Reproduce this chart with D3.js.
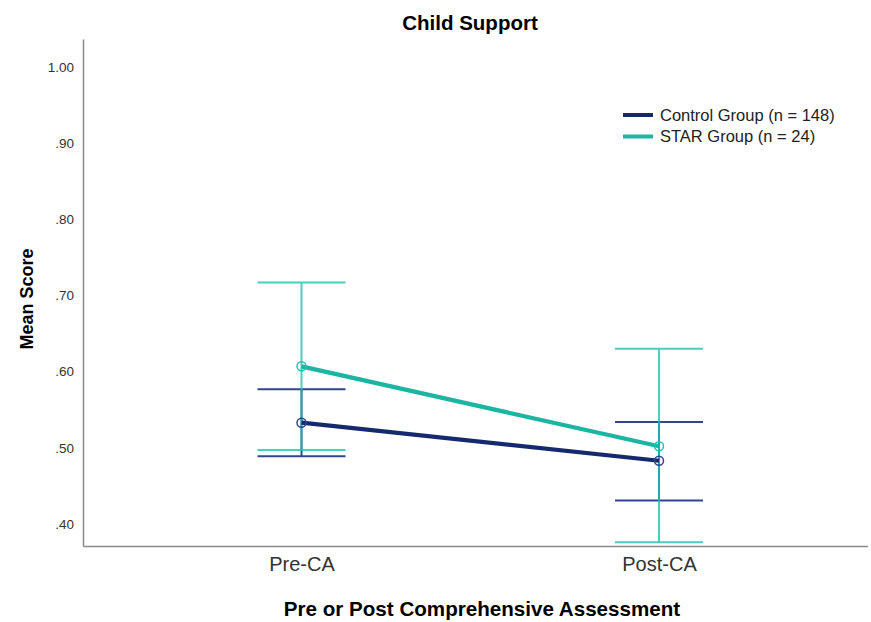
<!DOCTYPE html>
<html>
<head>
<meta charset="utf-8">
<script src="https://cdn.jsdelivr.net/npm/d3@7/dist/d3.min.js"></script>
<style>
  html, body { margin: 0; padding: 0; background: #fff; }
  svg { display: block; font-family: "Liberation Sans", Arial, sans-serif; }
</style>
</head>
<body>
<svg id="chart" width="871" height="622"></svg>
<script>
// Time points on the x axis
const timepoints = ["Pre-CA", "Post-CA"];

// Group names shown in the legend
const groups = ["Control Group (n = 148)", "STAR Group (n = 24)"];

// Mean scores per group at each time point
const controlMean = [0.533, 0.483];
const starMean = [0.607, 0.502];

// 95% CI bounds per group at each time point
const controlLow = [0.489, 0.431];
const controlHigh = [0.577, 0.534];
const starLow = [0.497, 0.376];
const starHigh = [0.717, 0.630];

// y-axis tick values
const yTicks = [0.40, 0.50, 0.60, 0.70, 0.80, 0.90, 1.00];

const series = [
  { name: groups[0], mean: controlMean, low: controlLow, high: controlHigh,
    line: "#152a6e", bar: "#33458f", barOpacity: 1 },
  { name: groups[1], mean: starMean, low: starLow, high: starHigh,
    line: "#1bb5a2", bar: "#1fc2b0", barOpacity: 0.8 }
];

const svg = d3.select("#chart");

const x = d3.scalePoint().domain(timepoints).range([301.5, 659]);
const y = d3.scaleLinear().domain([0.4, 1.0]).range([524, 67]);

const axisLeft = 83.5, axisTop = 39.5, axisBottom = 546.5, axisRight = 868;

// Axis frame lines (left and bottom)
svg.append("line")
  .attr("x1", axisLeft).attr("x2", axisLeft)
  .attr("y1", axisTop).attr("y2", axisBottom)
  .attr("stroke", "#8a8a8a").attr("stroke-width", 1.5);
svg.append("line")
  .attr("x1", axisLeft).attr("x2", axisRight)
  .attr("y1", axisBottom).attr("y2", axisBottom)
  .attr("stroke", "#8a8a8a").attr("stroke-width", 1.5);

// y axis tick labels
const fmt = v => { const s = d3.format(".2f")(v); return s.startsWith("0") ? s.slice(1) : s; };
const yAxis = d3.axisLeft(y).tickValues(yTicks).tickFormat(fmt).tickSize(0).tickPadding(0);
const gy = svg.append("g").attr("transform", `translate(74,0)`).call(yAxis);
gy.select(".domain").remove();
gy.selectAll("text")
  .attr("font-family", "Liberation Sans, Arial, sans-serif")
  .attr("font-size", 13.5).attr("fill", "#333");

// x axis category labels
const xAxis = d3.axisBottom(x).tickSize(0).tickPadding(0);
const gx = svg.append("g").attr("transform", `translate(0,557)`).call(xAxis);
gx.select(".domain").remove();
gx.selectAll("text")
  .attr("font-family", "Liberation Sans, Arial, sans-serif")
  .attr("font-size", 20).attr("fill", "#333").attr("dy", "0.71em");

// Error bars with caps
const capHalf = 44;
series.forEach(s => {
  const g = svg.append("g").attr("opacity", s.barOpacity);
  timepoints.forEach((t, i) => {
    g.append("line")
      .attr("x1", x(t)).attr("x2", x(t))
      .attr("y1", y(s.high[i])).attr("y2", y(s.low[i]))
      .attr("stroke", s.bar).attr("stroke-width", 2);
    [s.high[i], s.low[i]].forEach(v => {
      g.append("line")
        .attr("x1", x(t) - capHalf).attr("x2", x(t) + capHalf)
        .attr("y1", y(v)).attr("y2", y(v))
        .attr("stroke", s.bar).attr("stroke-width", 2);
    });
  });
});

// Mean lines and markers
const lineGen = d3.line().x((d, i) => x(timepoints[i])).y(d => y(d));
series.forEach(s => {
  svg.append("path")
    .datum(s.mean)
    .attr("d", lineGen)
    .attr("fill", "none")
    .attr("stroke", s.line)
    .attr("stroke-width", 4.2);
});
series.forEach(s => {
  svg.selectAll(null)
    .data(s.mean)
    .enter().append("circle")
    .attr("cx", (d, i) => x(timepoints[i]))
    .attr("cy", d => y(d))
    .attr("r", 4.5)
    .attr("fill", "none")
    .attr("stroke", s.bar)
    .attr("stroke-width", 1.5);
});

// Legend
const legend = svg.append("g").attr("transform", "translate(623,115)");
series.forEach((s, i) => {
  const row = legend.append("g").attr("transform", `translate(0,${i * 21.5})`);
  row.append("line")
    .attr("x1", 0).attr("x2", 30).attr("y1", 0).attr("y2", 0)
    .attr("stroke", s.line).attr("stroke-width", 4);
  row.append("text")
    .attr("x", 37).attr("y", 0).attr("dy", "0.35em")
    .attr("font-size", 16.5).attr("fill", "#222")
    .text(s.name);
});

// Titles
svg.append("text")
  .attr("x", 470).attr("y", 30)
  .attr("text-anchor", "middle")
  .attr("font-size", 20.5).attr("font-weight", "bold").attr("fill", "#000")
  .text("Child Support");

svg.append("text")
  .attr("x", 482).attr("y", 616)
  .attr("text-anchor", "middle")
  .attr("font-size", 20.6).attr("font-weight", "bold").attr("fill", "#000")
  .text("Pre or Post Comprehensive Assessment");

svg.append("text")
  .attr("transform", "translate(33,299) rotate(-90)")
  .attr("text-anchor", "middle")
  .attr("font-size", 18).attr("font-weight", "bold").attr("fill", "#000")
  .text("Mean Score");
</script>
</body>
</html>
